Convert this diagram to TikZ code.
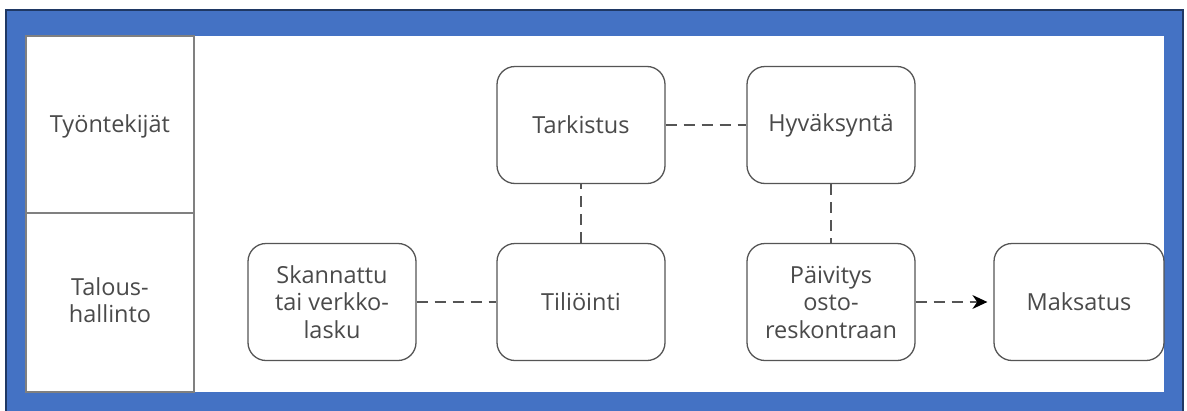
\documentclass[tikz,border=0pt]{standalone}
\usepackage{fontspec}
\setmainfont{Open Sans}
\usetikzlibrary{arrows.meta}
\definecolor{frameblue}{HTML}{4472C4}
\definecolor{framedark}{HTML}{1F3864}
\definecolor{boxline}{HTML}{555555}
\definecolor{textgray}{HTML}{4A4A4A}
\tikzset{
  stepbox/.style={draw=boxline, line width=1.3pt, rounded corners=18pt, minimum width=168pt,
    minimum height=117pt, align=center, text=textgray, font=\fontsize{23.5}{27.5}\selectfont, inner sep=2pt},
  lanelabel/.style={align=center, text=textgray, font=\fontsize{23.5}{27.5}\selectfont},
  link/.style={draw=boxline, line width=1.1pt, dash pattern=on 11pt off 7pt}
}
\begin{document}
\begin{tikzpicture}[x=1pt,y=-1pt]
    \useasboundingbox (0,0) rectangle (1187,410);
    % frame
    \fill[frameblue] (6,10) rectangle (1183,412);
    \draw[framedark, line width=1.5pt] (6,412) -- (6,10) -- (1183,10) -- (1183,412);
    \fill[white] (26,36) rectangle (1164,392);

    % lanes
    \draw[gray, line width=1.3pt] (26,36) rectangle (194,392);
    \draw[gray, line width=1.6pt] (26,213) -- (194,213);
    \node[lanelabel] (workers) at (110,126) {Työntekijät};
    \node[lanelabel] (finance) at (110,300) {Talous-\\hallinto};

    % steps
    \node[stepbox] (scan) at (332,302) {Skannattu\\tai verkko-\\lasku};
    \node[stepbox] (posting) at (581,302) {Tiliöinti};
    \node[stepbox] (check) at (581,125) {Tarkistus};
    \node[stepbox] (approve) at (831,125) {Hyväksyntä};
    \node[stepbox] (update) at (831,302) {Päivitys\\osto-\\reskontraan};
    \node[stepbox, minimum width=170pt] (pay) at (1079,302) {Maksatus};

    % links
    \draw[link, -{Stealth[length=15pt,width=14pt,black]}, shorten >=6pt] (update) -- (pay);
    \draw[link] (scan) -- (posting);
    \draw[link] (posting) -- (check);
    \draw[link] (check) -- (approve);
    \draw[link] (approve) -- (update);
\end{tikzpicture}
\end{document}
